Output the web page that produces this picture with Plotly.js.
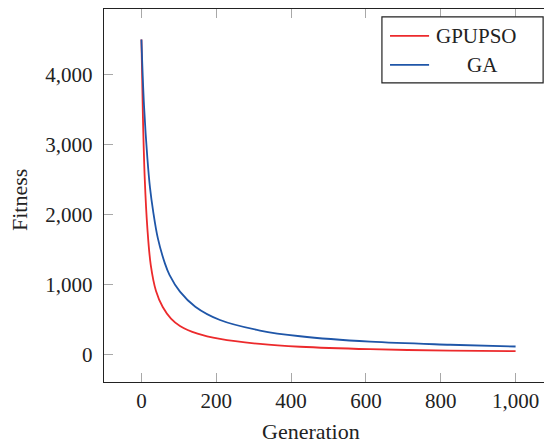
<!DOCTYPE html>
<html>
<head>
<meta charset="utf-8">
<script src="https://cdn.plot.ly/plotly-3.0.1.min.js"></script>
<style>
html, body { margin: 0; padding: 0; overflow: hidden; background: #fff; }
#chart { width: 560px; height: 445px; }
</style>
</head>
<body>
<div id="chart"></div>
<script>
// Data
const seriesNames = ["GPUPSO", "GA"];
const gpupsoGen = [0, 4, 9, 16, 25, 39, 57, 79, 103, 150, 210, 317, 424, 611, 825, 1000];
const gpupsoFit = [4500, 3400, 2500, 1800, 1280, 910, 680, 515, 410, 300, 225, 153, 113, 78, 58, 50];
const gaGen = [0, 7, 16, 23, 31, 44, 63, 75, 103, 144, 210, 317, 424, 611, 825, 1000];
const gaFit = [4500, 3550, 2800, 2380, 2060, 1660, 1300, 1140, 900, 685, 495, 345, 263, 185, 142, 117];
const xTicks = [0, 200, 400, 600, 800, 1000];
const yTicks = [0, 1000, 2000, 3000, 4000];
const xLabel = "Generation";
const yLabel = "Fitness";

const colors = ["#ec2a2c", "#1f56a8"];
const font = "Liberation Serif, Times New Roman, serif";

const traces = [
  { x: gpupsoGen, y: gpupsoFit, name: seriesNames[0], mode: "lines",
    line: { color: colors[0], width: 1.8, shape: "spline", smoothing: 1 } },
  { x: gaGen, y: gaFit, name: seriesNames[1], mode: "lines",
    line: { color: colors[1], width: 1.8, shape: "spline", smoothing: 1 } }
];

const axisCommon = {
  showgrid: false, zeroline: false,
  showline: true, linecolor: "#222", linewidth: 1.2,
  mirror: "ticks", ticks: "inside", ticklen: 9, tickcolor: "#a8a8a8", tickwidth: 1,
  tickfont: { family: font, size: 21, color: "#222" },
  tickformat: ","
};

const legendLineY = [0.928, 0.850];
const legendTextX = [0.829, 0.843];
const shapes = [
  { type: "rect", xref: "paper", yref: "paper", x0: 0.619, x1: 0.978, y0: 0.802, y1: 0.979,
    line: { color: "#222", width: 1.2 }, fillcolor: "#fff" }
];
const annotations = [
  { text: xLabel, xref: "paper", yref: "paper", x: 0.461, y: -0.133, xanchor: "center", yanchor: "middle",
    showarrow: false, font: { family: font, size: 22, color: "#222" } },
  { text: yLabel, xref: "paper", yref: "paper", x: -0.187, y: 0.488, xanchor: "center", yanchor: "middle",
    textangle: -90, showarrow: false, font: { family: font, size: 22, color: "#222" } }
];
seriesNames.forEach((n, i) => {
  shapes.push({ type: "line", xref: "paper", yref: "paper", x0: 0.637, x1: 0.724,
    y0: legendLineY[i], y1: legendLineY[i], line: { color: colors[i], width: 1.8 } });
  annotations.push({ text: n, xref: "paper", yref: "paper", x: legendTextX[i], y: legendLineY[i],
    xanchor: "center", yanchor: "middle", showarrow: false,
    font: { family: font, size: 21, color: "#222" } });
});

const layout = {
  width: 560, height: 445,
  margin: { l: 104, r: 7, t: 9, b: 63 },
  paper_bgcolor: "#fff", plot_bgcolor: "#fff",
  showlegend: false,
  xaxis: Object.assign({}, axisCommon, { range: [-100, 1100], tickvals: xTicks, ticklabelstandoff: 0 }),
  yaxis: Object.assign({}, axisCommon, { range: [-390, 4935], tickvals: yTicks, ticklabelstandoff: 6 }),
  shapes: shapes,
  annotations: annotations
};

Plotly.newPlot("chart", traces, layout, { staticPlot: true, displayModeBar: false });
</script>
</body>
</html>
